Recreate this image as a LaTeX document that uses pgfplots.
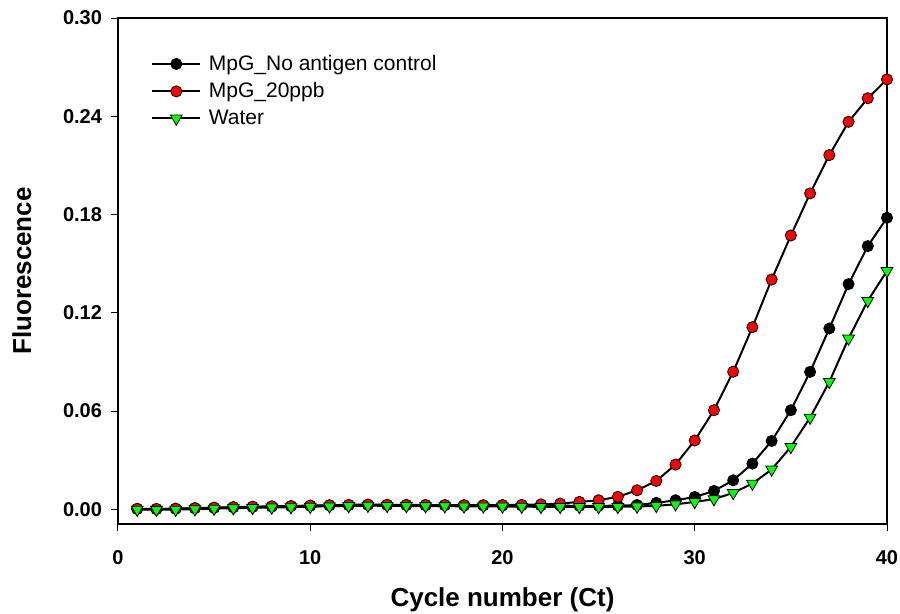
\documentclass[border=0pt]{standalone}
\usepackage{fontspec}
\setmainfont{Liberation Sans}
\usepackage{pgfplots}
\pgfplotsset{compat=1.18}
\definecolor{mred}{RGB}{255,0,0}
\definecolor{mgreen}{RGB}{0,255,0}

\begin{document}
\begin{tikzpicture}
\begin{axis}[
  name=ax,
  scale only axis,
  width=384.5pt, height=253pt,
  xmin=0, xmax=40,
  ymin=-0.009, ymax=0.30,
  xtick={0,10,20,30,40},
  ytick={0,0.06,0.12,0.18,0.24,0.30},
  minor tick num=0,
  tick pos=left,
  tick align=outside,
  major tick length=3.5pt,
  tick style={black, line width=0.5pt},
  axis line style={line width=1.4pt},
  /pgf/number format/assume math mode=true,
  ticklabel style={font=\bfseries\fontsize{10}{11}\selectfont},
  xticklabel style={yshift=-6pt},
  yticklabel style={xshift=-1pt},
  yticklabel={\pgfmathprintnumber[fixed, fixed zerofill, precision=2]{\tick}},
  xlabel={Cycle number (Ct)},
  ylabel={Fluorescence},
  label style={font=\bfseries\fontsize{13}{15}\selectfont},
  xlabel style={yshift=-5pt},
  ylabel style={yshift=9pt},
  legend style={draw=none, fill=none,
    at={(axis description cs:0.035,0.941)}, anchor=north west,
    font=\fontsize{10.5}{12}\selectfont,
    row sep=2pt,
    nodes={inner sep=1.3pt}},
  legend cell align=left,
  legend image code/.code={
    \draw[mark repeat=2,mark phase=2] plot coordinates {(0pt,0pt)(12pt,0pt)(24pt,0pt)};
    \path (26.5pt,0pt);
  },
]

% MpG_No antigen control
\addplot[black, line width=1pt, mark=*, mark size=2.8pt,
  mark options={fill=black, draw=black, line width=0.4pt}] coordinates {
  (1,0.0002) (2,0.0001) (3,0.0003) (4,0.0006) (5,0.0009) (6,0.0012)
  (7,0.0014) (8,0.0016) (9,0.0018) (10,0.0021) (11,0.0023) (12,0.0025)
  (13,0.0027) (14,0.0026) (15,0.0025) (16,0.0024) (17,0.0024) (18,0.0023)
  (19,0.0023) (20,0.0023) (21,0.0023) (22,0.0023) (23,0.0022) (24,0.0021)
  (25,0.0021) (26,0.0022) (27,0.0026) (28,0.0039) (29,0.0055) (30,0.0075)
  (31,0.0112) (32,0.0177) (33,0.0279) (34,0.0417) (35,0.0605) (36,0.0839)
  (37,0.1104) (38,0.1375) (39,0.1607) (40,0.1780)
};
\addlegendentry{MpG\_No antigen control}

% MpG_20ppb
\addplot[black, line width=1pt, mark=*, mark size=2.8pt,
  mark options={fill=mred, draw=black, line width=0.4pt}] coordinates {
  (1,0.0003) (2,0.0002) (3,0.0004) (4,0.0007) (5,0.0010) (6,0.0013)
  (7,0.0016) (8,0.0018) (9,0.0020) (10,0.0023) (11,0.0025) (12,0.0027)
  (13,0.0029) (14,0.0028) (15,0.0027) (16,0.0026) (17,0.0026) (18,0.0025)
  (19,0.0025) (20,0.0026) (21,0.0027) (22,0.0030) (23,0.0035) (24,0.0045)
  (25,0.0055) (26,0.0076) (27,0.0116) (28,0.0173) (29,0.0273) (30,0.0420)
  (31,0.0605) (32,0.0840) (33,0.1112) (34,0.1403) (35,0.1672) (36,0.1929)
  (37,0.2163) (38,0.2366) (39,0.2510) (40,0.2625)
};
\addlegendentry{MpG\_20ppb}

% Water
\addplot[black, line width=1pt, mark=triangle*, mark size=3.4pt,
  mark options={fill=mgreen, draw=black, line width=0.4pt, rotate=180}] coordinates {
  (1,-0.0002) (2,-0.0003) (3,-0.0002) (4,0.0001) (5,0.0004) (6,0.0007)
  (7,0.0009) (8,0.0011) (9,0.0013) (10,0.0016) (11,0.0018) (12,0.0020)
  (13,0.0022) (14,0.0021) (15,0.0020) (16,0.0019) (17,0.0019) (18,0.0018)
  (19,0.0018) (20,0.0017) (21,0.0016) (22,0.0015) (23,0.0015) (24,0.0014)
  (25,0.0014) (26,0.0015) (27,0.0017) (28,0.0021) (29,0.0030) (30,0.0045)
  (31,0.0062) (32,0.0100) (33,0.0157) (34,0.0243) (35,0.0381) (36,0.0560)
  (37,0.0778) (38,0.1043) (39,0.1273) (40,0.1456)
};
\addlegendentry{Water}

\end{axis}
\pgfresetboundingbox
\path[use as bounding box] ([shift={(-59pt,-44.5pt)}]ax.south west)
  rectangle ([shift={(6.5pt,9pt)}]ax.north east);
\end{tikzpicture}
\end{document}
